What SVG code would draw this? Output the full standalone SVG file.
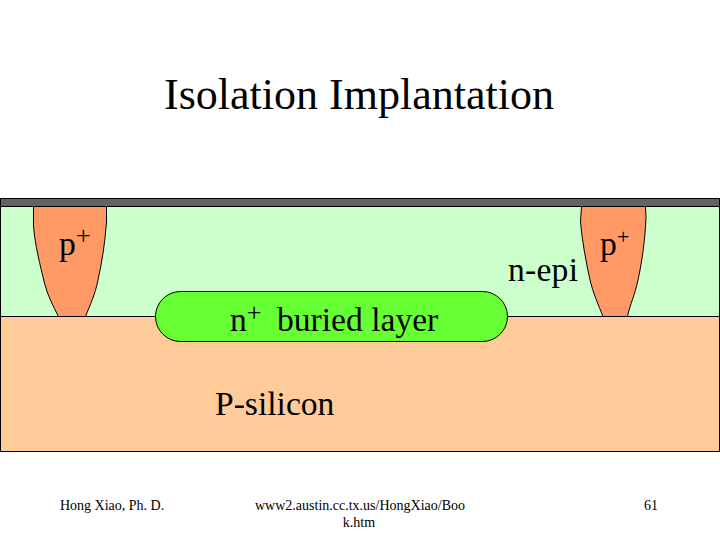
<svg xmlns="http://www.w3.org/2000/svg" width="720" height="540" viewBox="0 0 720 540">
<style>
text{font-family:"Liberation Serif","Times New Roman",serif;fill:#000}
.o{stroke:#000;stroke-width:1}
.l{font-size:33.6px}
.f{font-size:14px}
.s{font-size:26px}
</style>
<rect width="720" height="540" fill="#fff"/>
<g id="p-silicon"><rect class="o" x="0.5" y="316.5" width="719" height="135" fill="#ffcc99"/></g>
<g id="n-epi"><rect class="o" x="0.5" y="206.5" width="719" height="110" fill="#ccffcc"/></g>
<g id="oxide"><rect class="o" x="0.5" y="198.5" width="719" height="8" fill="#636363"/></g>
<g id="p-left"><path class="o" d="M33.500 206.500H106.500V222C105 243 102 262 98 280C95 295 90 305 85.500 316.500H58.500C53 306 48 296 45 285C40 265 35 245 33.500 226Z" fill="#ff9966"/></g>
<g id="p-right"><path class="o" d="M581.500 206.500H645.500L646 218C645 240 642 262 638 280C635 295 630 304 627.500 316.500H603C598 304 593 293 590 280C586 262 582 240 580.500 222Z" fill="#ff9966"/></g>
<g id="buried"><rect class="o" x="155.500" y="291.500" width="352" height="50" rx="25" ry="25" fill="#66ff33"/></g>
<text x="359" y="109" text-anchor="middle" style="font-size:44px">Isolation Implantation</text>
<text class="l" x="59" y="255">p<tspan class="s" x="76" y="244">+</tspan></text>
<text class="l" x="508" y="281" textLength="70">n-epi</text>
<text class="l" x="600" y="255">p<tspan class="s" x="617" y="244" style="font-size:22px">+</tspan></text>
<text class="l" x="230" y="331">n<tspan class="s" x="246.800" y="321">+</tspan></text>
<text class="l" x="277" y="331">buried layer</text>
<text class="l" x="215" y="415">P-silicon</text>
<text class="f" x="60" y="510">Hong Xiao, Ph. D.</text>
<text class="f" x="360" y="510" text-anchor="middle">www2.austin.cc.tx.us/HongXiao/Boo</text>
<text class="f" x="359" y="527" text-anchor="middle">k.htm</text>
<text class="f" x="651" y="510" text-anchor="middle">61</text>
</svg>
